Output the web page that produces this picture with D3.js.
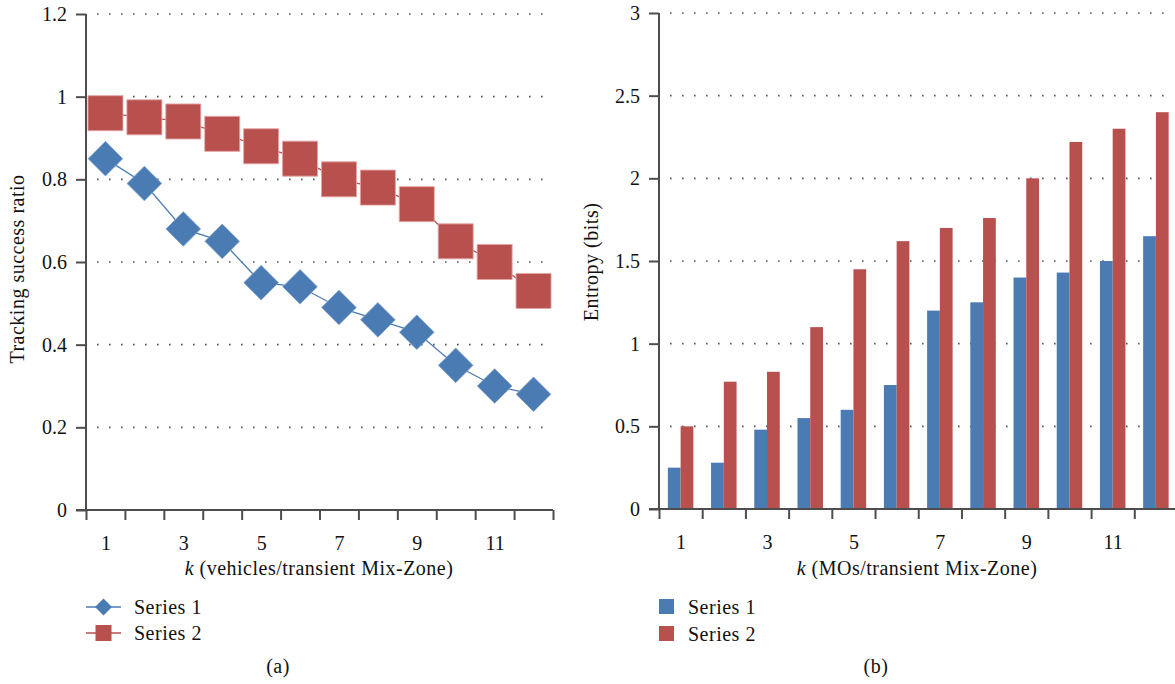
<!DOCTYPE html>
<html>
<head>
<meta charset="utf-8">
<script src="https://cdn.jsdelivr.net/npm/d3@7"></script>
<style>
  body { margin: 0; background: #fff; }
  svg { font-family: "Liberation Serif", "DejaVu Serif", serif; }
  .axis path, .axis line { stroke: #4d4d4d; stroke-width: 2; }
  .axis text { font-size: 20px; fill: #111; font-family: "Liberation Serif", serif; }
  .grid line { stroke: #555; stroke-width: 1.6; stroke-dasharray: 1.6 10.4; }
  .lbl { font-size: 20px; fill: #111; letter-spacing: 0.5px; }
</style>
</head>
<body>
<script>
// data
const ks = [1, 2, 3, 4, 5, 6, 7, 8, 9, 10, 11, 12];
const trackS1 = [0.85, 0.79, 0.68, 0.65, 0.55, 0.54, 0.49, 0.46, 0.43, 0.35, 0.30, 0.28];
const trackS2 = [0.96, 0.95, 0.94, 0.91, 0.88, 0.85, 0.80, 0.78, 0.74, 0.65, 0.60, 0.53];
const entropyS1 = [0.25, 0.28, 0.48, 0.55, 0.60, 0.75, 1.20, 1.25, 1.40, 1.43, 1.50, 1.65];
const entropyS2 = [0.50, 0.77, 0.83, 1.10, 1.45, 1.62, 1.70, 1.76, 2.00, 2.22, 2.30, 2.40];
const leftTicks = [0, 0.2, 0.4, 0.6, 0.8, 1, 1.2];
const rightTicks = [0, 0.5, 1, 1.5, 2, 2.5, 3];
const xLabels = [1, 3, 5, 7, 9, 11];
const seriesNames = ["Series 1", "Series 2"];

const BLUE = "#4a7bb3";
const RED = "#b8504e";

const svg = d3.select("body").append("svg")
    .attr("width", 1175)
    .attr("height", 684);

// Draws axes + grid for one panel; returns scales
function panel(x0, x1, yTop, yBot, yMax, ticks, fmt) {
    const x = d3.scaleLinear().domain([0.5, 12.5]).range([x0, x1]);
    const y = d3.scaleLinear().domain([0, yMax]).range([yBot, yTop]);

    svg.append("g").attr("class", "grid")
        .selectAll("line")
        .data(ticks.filter(d => d > 0))
        .enter().append("line")
            .attr("x1", x0 + 11)
            .attr("x2", Math.min(x1, 1170) - 6)
            .attr("y1", d => y(d))
            .attr("y2", d => y(d));

    const yAxis = d3.axisLeft(y).tickValues(ticks).tickSize(10).tickPadding(9).tickFormat(fmt);
    svg.append("g").attr("class", "axis")
        .attr("transform", `translate(${x0},0)`)
        .call(yAxis)
        .call(g => g.select(".domain").attr("d", `M0,${yTop}V${yBot}`));

    // tick marks at band edges
    const edges = d3.range(0.5, 13, 1);
    svg.append("g").attr("class", "axis")
        .attr("transform", `translate(0,${yBot})`)
        .call(d3.axisBottom(x).tickValues(edges).tickSize(10).tickFormat(""))
        .call(g => g.select(".domain").attr("d", `M${x0 - 10},0H${Math.min(x1, 1175)}`));

    // labels at band centres
    svg.append("g").attr("class", "axis")
        .attr("transform", `translate(0,${yBot})`)
        .call(d3.axisBottom(x).tickValues(xLabels).tickSize(0).tickPadding(26))
        .call(g => g.select(".domain").remove());

    return { x, y };
}

// ----- (a) line chart -----
const A = panel(86, 553, 14, 510, 1.2, leftTicks, d3.format("~g"));

function drawLine(values, color) {
    svg.append("path")
        .datum(values)
        .attr("fill", "none")
        .attr("stroke", color)
        .attr("stroke-width", 1.3)
        .attr("d", d3.line().x((d, i) => A.x(ks[i])).y(d => A.y(d)));
}
drawLine(trackS1, BLUE);
drawLine(trackS2, RED);

const diamond = d3.symbol().type(d3.symbolSquare).size(2 * 17.3 * 17.3);
svg.append("g").selectAll("path")
    .data(trackS1)
    .enter().append("path")
        .attr("d", diamond)
        .attr("transform", (d, i) => `translate(${A.x(ks[i])},${A.y(d)}) rotate(45)`)
        .attr("fill", BLUE)
        .attr("stroke", "#7ea3cf")
        .attr("stroke-width", 0.8);

const square = d3.symbol().type(d3.symbolSquare).size(35 * 35);
svg.append("g").selectAll("path")
    .data(trackS2)
    .enter().append("path")
        .attr("d", square)
        .attr("transform", (d, i) => `translate(${A.x(ks[i])},${A.y(d)})`)
        .attr("fill", RED)
        .attr("stroke", "#e3a5a3")
        .attr("stroke-width", 0.9);

// ----- (b) bar chart -----
const B = panel(659, 1177.5, 13, 509, 3, rightTicks, d3.format("~g"));

const band = d3.scaleBand().domain(ks).range([659, 1177.5]);
const inner = d3.scaleBand().domain([0, 1])
    .range([band.bandwidth() * 0.205, band.bandwidth() * 0.795]);

[entropyS1, entropyS2].forEach((vals, s) => {
    svg.append("g").selectAll("rect")
        .data(vals)
        .enter().append("rect")
            .attr("x", (d, i) => band(ks[i]) + inner(s))
            .attr("width", inner.bandwidth())
            .attr("y", d => B.y(d))
            .attr("height", d => B.y(0) - B.y(d))
            .attr("fill", s === 0 ? BLUE : RED);
});
// redraw baseline over the bars
svg.append("line")
    .attr("x1", 649).attr("x2", 1175)
    .attr("y1", 509).attr("y2", 509)
    .attr("stroke", "#4d4d4d").attr("stroke-width", 2);

// ----- titles -----
function label(txt, x, y, rot, italicK) {
    const t = svg.append("text")
        .attr("class", "lbl")
        .attr("transform", `translate(${x},${y}) rotate(${rot})`)
        .attr("text-anchor", "middle");
    if (italicK) {
        t.append("tspan").attr("font-style", "italic").text("k");
        t.append("tspan").text(" " + txt);
    } else {
        t.text(txt);
    }
}
label("Tracking success ratio", 24, 269, -90);
label("Entropy (bits)", 598, 262, -90);
label("(vehicles/transient Mix-Zone)", 319, 575, 0, true);
label("(MOs/transient Mix-Zone)", 917, 575, 0, true);
label("(a)", 278, 673, 0);
label("(b)", 876, 673, 0);

// ----- legends -----
const legA = svg.append("g");
[0, 1].forEach(s => {
    const cy = 607 + s * 26;
    legA.append("line")
        .attr("x1", 86).attr("x2", 121)
        .attr("y1", cy).attr("y2", cy)
        .attr("stroke", s === 0 ? BLUE : RED).attr("stroke-width", 1.3);
    legA.append("path")
        .attr("d", d3.symbol().type(d3.symbolSquare).size(s === 0 ? 2 * 8.5 * 8.5 : 16 * 16)())
        .attr("transform", `translate(103.5,${cy})` + (s === 0 ? " rotate(45)" : ""))
        .attr("fill", s === 0 ? BLUE : RED);
    legA.append("text")
        .attr("class", "lbl")
        .attr("x", 134).attr("y", cy + 6.5)
        .text(seriesNames[s]);
});

const legB = svg.append("g");
[0, 1].forEach(s => {
    const y0 = 599 + s * 27;
    legB.append("rect")
        .attr("x", 659).attr("y", y0)
        .attr("width", 15).attr("height", 15)
        .attr("fill", s === 0 ? BLUE : RED);
    legB.append("text")
        .attr("class", "lbl")
        .attr("x", 688).attr("y", y0 + 14.5)
        .text(seriesNames[s]);
});
</script>
</body>
</html>
